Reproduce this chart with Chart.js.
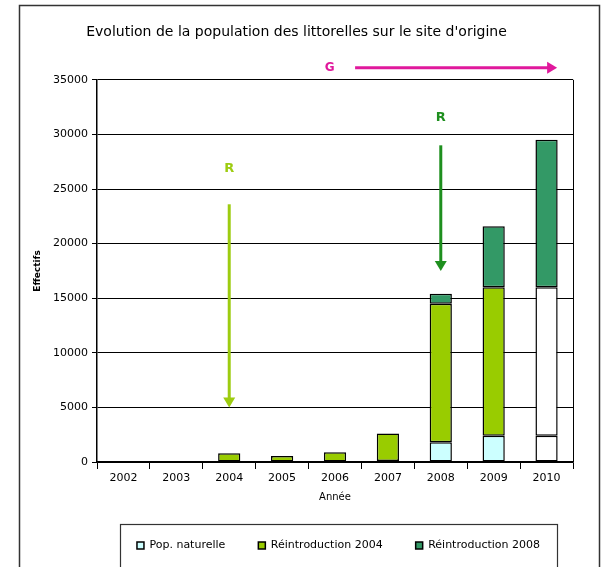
<!DOCTYPE html>
<html>
<head>
<meta charset="utf-8">
<script src="https://cdn.jsdelivr.net/npm/chart.js@4"></script>
<style>
  html, body { margin: 0; padding: 0; background: #fff; }
  #wrap { width: 610px; height: 567px; }
</style>
</head>
<body>
<div id="wrap"><canvas id="chart" width="610" height="567"></canvas></div>
<script>
// data
const years = ['2002', '2003', '2004', '2005', '2006', '2007', '2008', '2009', '2010'];
const popNaturelle = [null, null, null, null, null, 100, 1800, 2400, 2400];
const reintro2004 = [null, null, 800, 550, 900, 2500, 12700, 13600, 13600];
const reintro2008 = [null, null, null, null, null, null, 900, 5600, 13500];
const yTicks = [0, 5000, 10000, 15000, 20000, 25000, 30000, 35000];

// annotation marks (category index, value)
const rMarks = [
    { text: 'R', color: '#9dcc10', cat: 2, labelAt: 26900, from: 23600, to: 5000 },
    { text: 'R', color: '#1e8f1e', cat: 6, labelAt: 31500, from: 29000, to: 17500 }
];
const gMark = { text: 'G', color: '#e0189c', labelCat: 3.9, from: 4.38, to: 8.2, at: 36100 };

const FONT = "'DejaVu Sans', Verdana, sans-serif";

function arrowHead(ctx, x, y, dir, size) {
    ctx.beginPath();
    if (dir === 'down') {
        ctx.moveTo(x - size * 0.6, y - size);
        ctx.lineTo(x + size * 0.6, y - size);
        ctx.lineTo(x, y);
    } else {
        ctx.moveTo(x - size, y - size * 0.6);
        ctx.lineTo(x - size, y + size * 0.6);
        ctx.lineTo(x, y);
    }
    ctx.closePath();
    ctx.fill();
}

const decorations = {
    id: 'decorations',
    afterDraw(chart) {
        const ctx = chart.ctx;
        const xs = chart.scales.x;
        const ys = chart.scales.y;
        const area = chart.chartArea;
        ctx.save();

        // outer frame
        ctx.strokeStyle = '#333';
        ctx.lineWidth = 1.5;
        ctx.strokeRect(19.5, 5.5, 580, 600);

        // right border of the plot
        ctx.strokeStyle = '#000';
        ctx.lineWidth = 1;
        ctx.beginPath();
        ctx.moveTo(Math.round(area.right) + 0.5, area.top);
        ctx.lineTo(Math.round(area.right) + 0.5, area.bottom);
        ctx.stroke();

        // box round the legend
        ctx.strokeStyle = '#333';
        ctx.lineWidth = 1.2;
        ctx.strokeRect(120.5, 524.5, 437, 60);

        // vertical arrows
        rMarks.forEach(m => {
            const x = xs.getPixelForValue(m.cat);
            ctx.fillStyle = m.color;
            ctx.strokeStyle = m.color;
            ctx.font = 'bold 13px ' + FONT;
            ctx.textAlign = 'center';
            ctx.textBaseline = 'middle';
            ctx.fillText(m.text, x, ys.getPixelForValue(m.labelAt));
            const y1 = ys.getPixelForValue(m.from);
            const y2 = ys.getPixelForValue(m.to);
            ctx.lineWidth = 3;
            ctx.beginPath();
            ctx.moveTo(x, y1);
            ctx.lineTo(x, y2 - 8);
            ctx.stroke();
            arrowHead(ctx, x, y2, 'down', 10);
        });

        // horizontal arrow
        const gy = ys.getPixelForValue(gMark.at);
        const gx1 = xs.getPixelForValue(gMark.from);
        const gx2 = xs.getPixelForValue(gMark.to);
        ctx.fillStyle = gMark.color;
        ctx.strokeStyle = gMark.color;
        ctx.font = 'bold 12px ' + FONT;
        ctx.textAlign = 'center';
        ctx.textBaseline = 'middle';
        ctx.fillText(gMark.text, xs.getPixelForValue(gMark.labelCat), gy);
        ctx.lineWidth = 3;
        ctx.beginPath();
        ctx.moveTo(gx1, gy);
        ctx.lineTo(gx2 - 8, gy);
        ctx.stroke();
        arrowHead(ctx, gx2, gy, 'right', 10);

        ctx.restore();
    }
};

// last bar is drawn white for the two lower segments
const segColor = (color) => (c) => (c.dataIndex === 8 ? '#ffffff' : color);

new Chart(document.getElementById('chart'), {
    type: 'bar',
    data: {
        labels: years,
        datasets: [
            {
                label: 'Pop. naturelle',
                data: popNaturelle,
                backgroundColor: segColor('#ccffff'),
                borderColor: '#000',
                borderWidth: 1.5,
                borderSkipped: false
            },
            {
                label: 'Réintroduction 2004',
                data: reintro2004,
                backgroundColor: segColor('#99cc00'),
                borderColor: '#000',
                borderWidth: 1.5,
                borderSkipped: false
            },
            {
                label: 'Réintroduction 2008',
                data: reintro2008,
                backgroundColor: '#339966',
                borderColor: '#000',
                borderWidth: 1.5,
                borderSkipped: false
            }
        ]
    },
    options: {
        responsive: false,
        animation: false,
        datasets: {
            bar: { categoryPercentage: 1, barPercentage: 0.42 }
        },
        layout: {
            padding: { left: 20, right: 37, top: 0, bottom: 6 }
        },
        plugins: {
            title: {
                display: true,
                text: "Evolution de la population des littorelles sur le site d'origine",
                color: '#000',
                font: { family: FONT, size: 14, weight: 'normal' },
                padding: { top: 24, bottom: 39 }
            },
            legend: {
                position: 'bottom',
                align: 'end',
                labels: {
                    color: '#000',
                    font: { family: FONT, size: 11 },
                    boxWidth: 7,
                    boxHeight: 7,
                    padding: 33
                }
            },
            tooltip: { enabled: false }
        },
        scales: {
            x: {
                stacked: true,
                afterFit: (s) => { s.height = 45; },
                border: { color: '#000', width: 1.5 },
                grid: {
                    offset: true,
                    drawOnChartArea: false,
                    color: '#000',
                    tickLength: 7
                },
                ticks: {
                    color: '#000',
                    font: { family: FONT, size: 11 },
                    padding: 3,
                    maxRotation: 0
                },
                title: {
                    display: true,
                    text: 'Année',
                    color: '#000',
                    font: { family: FONT, size: 10 },
                    padding: { top: 2, bottom: 4 }
                }
            },
            y: {
                stacked: true,
                min: 0,
                max: 35000,
                afterFit: (s) => { s.width = 77; },
                afterBuildTicks: (s) => { s.ticks = yTicks.map(v => ({ value: v })); },
                border: { color: '#000', width: 1.5 },
                grid: {
                    color: '#000',
                    lineWidth: 1,
                    tickLength: 5
                },
                ticks: {
                    color: '#000',
                    font: { family: FONT, size: 11 },
                    padding: 4,
                    callback: (v) => String(v)
                },
                title: {
                    display: true,
                    text: 'Effectifs',
                    color: '#000',
                    font: { family: FONT, size: 9, weight: 'bold' },
                    padding: { top: 12, bottom: 0 }
                }
            }
        }
    },
    plugins: [decorations]
});
</script>
</body>
</html>
